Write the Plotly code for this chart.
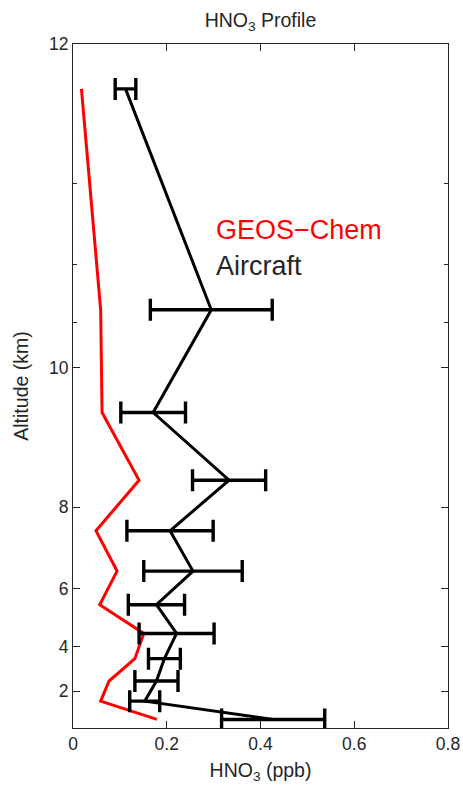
import math
import plotly.graph_objects as go

# ---- data ----
altitude_km = [11.5, 10.5, 9.5, 8.5, 7.5, 6.5, 5.5, 4.5, 3.5, 2.5, 1.5, 0.5]
aircraft_hno3 = [0.112, 0.295, 0.171, 0.333, 0.207, 0.256, 0.178, 0.221, 0.195, 0.178, 0.153, 0.427]
aircraft_err = [0.022, 0.130, 0.069, 0.078, 0.092, 0.105, 0.060, 0.080, 0.034, 0.046, 0.032, 0.110]
geos_chem_hno3 = [0.018, 0.059, 0.062, 0.141, 0.049, 0.094, 0.057, 0.151, 0.132, 0.077, 0.059, 0.179]

y_tick_alt = [2, 4, 6, 8, 10, 11.6]
y_tick_labels = ["2", "4", "6", "8", "10", "12"]
y_minor_alt = [10.4, 10.8, 11.2]
x_tick_vals = [0, 0.2, 0.4, 0.6, 0.8]
x_tick_labels = ["0", "0.2", "0.4", "0.6", "0.8"]

TOP_KM = 12.0  # axis coordinate = distance below 12 km, log-scaled


def axis_coord(a):
    return TOP_KM - a


TEXT = "#262626"
FONT = "Liberation Sans, Arial, Helvetica, sans-serif"

fig = go.Figure()

fig.add_trace(go.Scatter(
    x=geos_chem_hno3,
    y=[axis_coord(a) for a in altitude_km],
    mode="lines",
    line=dict(color="#FF0000", width=3),
    name="GEOS\u2212Chem",
    showlegend=False,
))

fig.add_trace(go.Scatter(
    x=aircraft_hno3,
    y=[axis_coord(a) for a in altitude_km],
    mode="lines",
    line=dict(color="#000000", width=3),
    error_x=dict(type="data", array=aircraft_err, symmetric=True,
                 color="#000000", thickness=3.4, width=11),
    name="Aircraft",
    showlegend=False,
))

fig.add_annotation(text="GEOS\u2212Chem", xref="paper", yref="paper",
                   x=0.376, y=0.728, xanchor="left", yanchor="middle",
                   showarrow=False, font=dict(family=FONT, size=27, color="#FF0000"))
fig.add_annotation(text="Aircraft", xref="paper", yref="paper",
                   x=0.376, y=0.676, xanchor="left", yanchor="middle",
                   showarrow=False, font=dict(family=FONT, size=27, color=TEXT))

fig.update_layout(
    width=463, height=786,
    margin=dict(l=73, r=15, t=44, b=58, autoexpand=False),
    paper_bgcolor="white", plot_bgcolor="white",
    font=dict(family=FONT, size=17, color=TEXT),
    title=dict(text="HNO<sub>3</sub> Profile", x=0.5, xref="paper",
               xanchor="center", y=1 - 20 / 786, yref="container", yanchor="middle",
               font=dict(family=FONT, size=19.5, color=TEXT)),
    showlegend=False,
)

fig.update_xaxes(
    range=[0, 0.8], tickvals=x_tick_vals, ticktext=x_tick_labels,
    ticks="inside", ticklen=6.5, tickwidth=1, tickcolor=TEXT,
    showline=True, linecolor=TEXT, linewidth=1.2, mirror="ticks",
    showgrid=False, zeroline=False, automargin=False,
    tickfont=dict(family=FONT, size=17.5, color=TEXT),
    title=dict(text="HNO<sub>3</sub> (ppb)", font=dict(family=FONT, size=19.5, color=TEXT), standoff=10),
)

fig.update_yaxes(
    type="log",
    range=[math.log10(axis_coord(0)), math.log10(axis_coord(11.6))],
    tickvals=[axis_coord(a) for a in y_tick_alt], ticktext=y_tick_labels,
    ticks="inside", ticklen=6.5, tickwidth=1, tickcolor=TEXT,
    minor=dict(tickvals=[axis_coord(a) for a in y_minor_alt], ticks="inside",
               ticklen=3.5, tickwidth=1, tickcolor=TEXT, showgrid=False),
    showline=True, linecolor=TEXT, linewidth=1.2, mirror="ticks",
    showgrid=False, zeroline=False, automargin=False,
    tickfont=dict(family=FONT, size=17.5, color=TEXT),
    title=dict(text="Altitude (km)", font=dict(family=FONT, size=19.5, color=TEXT), standoff=15),
)

fig.write_html("out.html", config={"displayModeBar": False},
               post_script="document.body.style.margin='0';document.body.style.overflow='hidden';")
